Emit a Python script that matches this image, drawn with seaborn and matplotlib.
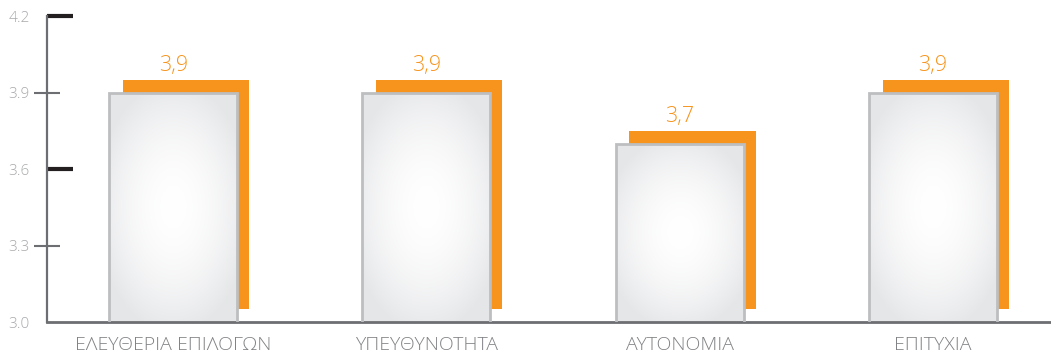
import numpy as np
import pandas as pd
import matplotlib
matplotlib.use("Agg")
import matplotlib.pyplot as plt
import seaborn as sns

# Survey scores per dimension
categories = ["ΕΛΕΥΘΕΡΙΑ ΕΠΙΛΟΓΩΝ", "ΥΠΕΥΘΥΝΟΤΗΤΑ", "ΑΥΤΟΝΟΜΙΑ", "ΕΠΙΤΥΧΙΑ"]
scores = [3.9, 3.9, 3.7, 3.9]
y_ticks = [3.0, 3.3, 3.6, 3.9, 4.2]
bold_ticks = [3.6, 4.2]

sns.set_style("white")
plt.rcParams["font.family"] = ["Open Sans", "Noto Sans", "DejaVu Sans"]

ORANGE = "#f7941d"
SPINE = "#6d6e71"
EDGE = "#bcbec0"
FACE_EDGE = np.array([0.900, 0.904, 0.912])

df = pd.DataFrame({"category": categories, "score": scores})

fig = plt.figure(figsize=(10.51, 3.55), dpi=100)
ax = fig.add_axes([47 / 1051, 33 / 355, 1 - 47 / 1051, 306 / 355])

y_floor, y_top = 3.0, 4.2
bar_w = 0.506
shift_x, shift_y = 0.051, 0.05

# orange drop shadow behind each bar
xs = np.arange(len(categories))
vals = np.asarray(scores)
ax.bar(xs + shift_x, vals - y_floor, bottom=y_floor + shift_y, width=bar_w * 0.985,
       color=ORANGE, linewidth=0, zorder=1)

# grey front bars
sns.barplot(data=df, x="category", y="score", ax=ax, width=bar_w,
            color="#e6e7e8", edgecolor=EDGE, linewidth=2, saturation=1, zorder=3)

ax.set_ylim(y_floor, y_top)
ax.set_xlim(-0.498, 3.466)

# radial white-to-grey fill inside each front bar
for patch, v in zip(ax.patches[len(categories):], scores):
    x0 = patch.get_x()
    w = patch.get_width()
    ny, nx = 240, 140
    u = np.linspace(-1, 1, nx)[None, :]
    vv = np.linspace(-1, 1, ny)[:, None]
    t = np.clip(np.sqrt((u / 1.1) ** 2 + vv ** 2) / 1.1, 0, 1) ** 1.8
    img = (1 - t)[..., None] * np.array([1.0, 1.0, 1.0]) + t[..., None] * FACE_EDGE
    im = ax.imshow(img, extent=(x0, x0 + w, y_floor, v), aspect="auto",
                   interpolation="bilinear", zorder=2)
    im.set_clip_path(patch)
    patch.set_facecolor("none")
    patch.set_zorder(3)

# value labels above the shadow
for x, v in zip(xs, scores):
    ax.annotate(f"{v:.1f}".replace(".", ","), xy=(x, v + shift_y), xytext=(0, 3),
                textcoords="offset points", ha="center", va="bottom",
                fontsize=15.5, color=ORANGE, fontweight="light")

# spines
sns.despine(ax=ax, top=True, right=True)
for side in ("left", "bottom"):
    ax.spines[side].set_color(SPINE)
ax.spines["left"].set_linewidth(1.6)
ax.spines["bottom"].set_linewidth(2.0)

# y ticks: thin grey crossing ticks, thick dark inner ticks on alternate levels
major = [t for t in y_ticks if t not in bold_ticks]
ax.set_yticks(major, labels=[f"{t:.1f}" for t in major])
ax.set_yticks(bold_ticks, labels=[f"{t:.1f}" for t in bold_ticks], minor=True)
ax.tick_params(axis="y", which="major", direction="inout", length=18.7, width=1.5,
               color=SPINE, pad=3.0, labelsize=11, labelcolor="#a7a9ac", left=True)
ax.tick_params(axis="y", which="minor", direction="in", length=18.7, width=3.0,
               color="#231f20", pad=12.2, labelsize=11, labelcolor="#a7a9ac", left=True)
ax.yaxis.get_major_ticks()[0].tick1line.set_visible(False)
for lab in ax.get_yticklabels(which="both"):
    lab.set_fontweight("light")

ax.set_xlabel("")
ax.set_ylabel("")
ax.tick_params(axis="x", length=0, pad=10, labelsize=14, labelcolor="#808285")
for lab in ax.get_xticklabels():
    lab.set_fontweight("light")

fig.savefig("out.png", dpi=100)
